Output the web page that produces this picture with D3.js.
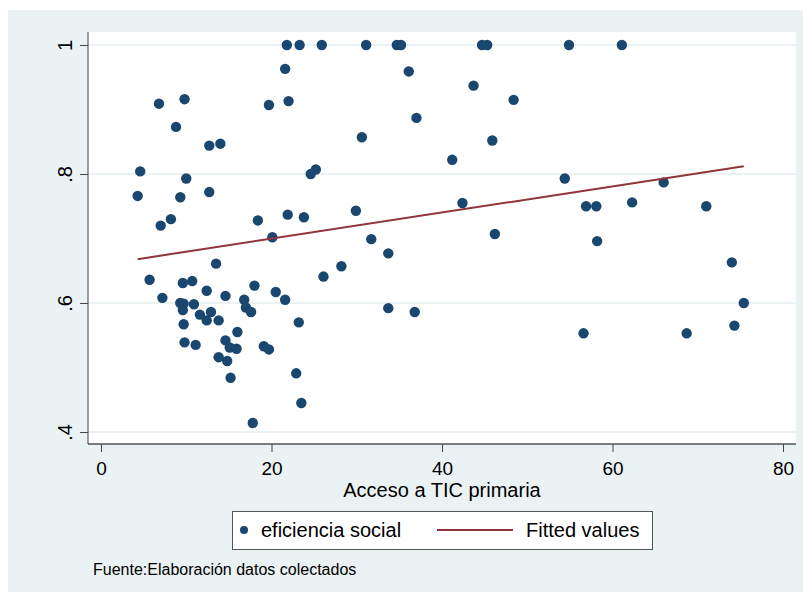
<!DOCTYPE html>
<html>
<head>
<meta charset="utf-8">
<script src="https://cdn.jsdelivr.net/npm/d3@7"></script>
<style>
    body { margin: 0; background: white; }
    svg { display: block; font-family: "Liberation Sans", Arial, sans-serif; }
</style>
</head>
<body>
<div id="container"></div>
<script>
// acceso a TIC primaria (x) and eficiencia social (y)
const accesoTIC = [
    21.8, 23.3, 25.9, 31.1, 34.7, 35.2, 44.7, 45.3, 54.9, 61.1,
    21.6, 6.8, 9.8, 19.7, 22.0, 8.8, 12.7, 14.0, 4.6, 10.0,
    4.3, 9.3, 12.7, 24.6, 25.2, 7.0, 8.2, 18.4, 21.9, 23.8,
    20.1, 13.5, 5.7, 9.6, 10.7, 7.2, 12.4, 14.6, 18.0, 20.5,
    21.6, 26.1, 9.3, 9.7, 10.9, 9.6, 12.9, 11.6, 12.4, 13.8,
    16.8, 17.0, 17.6, 9.7, 16.0, 23.2, 9.8, 11.1, 14.6, 15.1,
    15.9, 19.1, 19.7, 13.8, 14.8, 15.2, 22.9, 23.5, 17.8,
    36.1, 43.7, 48.4, 37.0, 30.6, 45.9, 41.2, 54.4, 29.9, 42.4,
    28.2, 31.7, 33.7, 33.7, 36.8, 46.2,
    56.9, 58.1, 62.3, 66.0, 71.0,
    58.2, 74.0, 75.4, 74.3, 56.6, 68.7
];
const eficienciaSocial = [
    1, 1, 1, 1, 1, 1, 1, 1, 1, 1,
    0.963, 0.909, 0.916, 0.907, 0.913, 0.873, 0.844, 0.847, 0.804, 0.793,
    0.766, 0.764, 0.772, 0.800, 0.807, 0.720, 0.730, 0.728, 0.737, 0.733,
    0.702, 0.661, 0.636, 0.631, 0.634, 0.608, 0.619, 0.611, 0.627, 0.617,
    0.605, 0.641, 0.600, 0.599, 0.598, 0.589, 0.586, 0.582, 0.573, 0.573,
    0.605, 0.593, 0.586, 0.567, 0.555, 0.570, 0.539, 0.535, 0.542, 0.531,
    0.529, 0.533, 0.528, 0.516, 0.510, 0.484, 0.491, 0.445, 0.414,
    0.959, 0.937, 0.915, 0.887, 0.857, 0.852, 0.822, 0.793, 0.743, 0.755,
    0.657, 0.699, 0.677, 0.592, 0.586, 0.707,
    0.750, 0.750, 0.756, 0.787, 0.750,
    0.696, 0.663, 0.600, 0.565, 0.553, 0.553
];

// fitted line end points
const fittedX = [4.3, 75.4];
const fittedY = [0.668, 0.812];

const xTickValues = [0, 20, 40, 60, 80];
const yTickValues = [0.4, 0.6, 0.8, 1];
const yTickLabels = [".4", ".6", ".8", "1"];

const config = {
    width: 803,
    height: 595,
    plotLeft: 88,
    plotRight: 796,
    plotTop: 32,
    plotBottom: 444,
}

const navy = "#1a476f";
const maroon = "#90353b";
const graphBg = "#eaf2f3";

const svg = d3.select("#container")
    .append("svg")
    .attr("width", config.width)
    .attr("height", config.height)

svg.append("rect")
    .attr("x", 8)
    .attr("y", 10)
    .attr("width", config.width - 8)
    .attr("height", 582)
    .attr("fill", graphBg)

svg.append("rect")
    .attr("x", config.plotLeft)
    .attr("y", config.plotTop)
    .attr("width", config.plotRight - config.plotLeft)
    .attr("height", config.plotBottom - config.plotTop)
    .attr("fill", "white")

const xScale = d3.scaleLinear()
    .domain([0, 80])
    .range([101, 783])

const yScale = d3.scaleLinear()
    .domain([0.4, 1])
    .range([432, 45])

// grid lines
svg.append("g")
    .selectAll("line")
    .data(yTickValues)
    .join("line")
    .attr("x1", config.plotLeft)
    .attr("x2", config.plotRight)
    .attr("y1", d => yScale(d))
    .attr("y2", d => yScale(d))
    .attr("stroke", graphBg)
    .attr("stroke-width", 2)

// y axis
const yAxis = svg.append("g")
    .attr("class", "y-axis")
    .attr("transform", `translate(${config.plotLeft},0)`)
    .call(d3.axisLeft(yScale)
        .tickValues(yTickValues)
        .tickFormat((d, i) => yTickLabels[i])
        .tickSize(8)
        .tickSizeOuter(0)
    )
yAxis.select(".domain")
    .attr("d", `M0,${config.plotTop}V${config.plotBottom}`)
    .attr("stroke", "#444")
yAxis.selectAll(".tick line").attr("stroke", "#444")
yAxis.selectAll(".tick text")
    .attr("x", null)
    .attr("dy", null)
    .attr("transform", "translate(-16,0) rotate(-90)")
    .attr("text-anchor", "middle")
    .style("font-size", "20px")
    .style("font-family", "'Liberation Sans', Arial, sans-serif")
    .attr("fill", "black")

// x axis
const xAxis = svg.append("g")
    .attr("class", "x-axis")
    .attr("transform", `translate(0,${config.plotBottom})`)
    .call(d3.axisBottom(xScale)
        .tickValues(xTickValues)
        .tickSize(8)
        .tickPadding(10)
        .tickSizeOuter(0)
    )
xAxis.select(".domain")
    .attr("d", `M${config.plotLeft},0H${config.plotRight}`)
    .attr("stroke", "black")
xAxis.selectAll(".tick line").attr("stroke", "#444")
xAxis.selectAll(".tick text")
    .style("font-size", "19px")
    .style("font-family", "'Liberation Sans', Arial, sans-serif")
    .attr("fill", "black")

svg.append("text")
    .attr("text-anchor", "middle")
    .attr("x", 442)
    .attr("y", 497)
    .text("Acceso a TIC primaria")
    .style("font-size", "20px")

// points
svg.append("g")
    .selectAll("circle")
    .data(accesoTIC.map((x, i) => ({x: x, y: eficienciaSocial[i]})))
    .join("circle")
    .attr("cx", d => xScale(d.x))
    .attr("cy", d => yScale(d.y))
    .attr("r", 5.2)
    .attr("fill", navy)

// fitted line
svg.append("path")
    .datum(fittedX.map((x, i) => [x, fittedY[i]]))
    .attr("d", d3.line().x(d => xScale(d[0])).y(d => yScale(d[1])))
    .attr("fill", "none")
    .attr("stroke", maroon)
    .attr("stroke-width", 2)

// legend
const legend = svg.append("g").attr("class", "legend");

legend.append("rect")
    .attr("x", 232.5)
    .attr("y", 511.5)
    .attr("width", 420)
    .attr("height", 38)
    .attr("fill", "white")
    .attr("stroke", "#555")

legend.append("circle")
    .attr("cx", 244)
    .attr("cy", 530)
    .attr("r", 4)
    .attr("fill", navy)

legend.append("text")
    .attr("x", 261)
    .attr("y", 537)
    .text("eficiencia social")
    .style("font-size", "20px")

legend.append("line")
    .attr("x1", 437)
    .attr("x2", 513)
    .attr("y1", 530)
    .attr("y2", 530)
    .attr("stroke", maroon)
    .attr("stroke-width", 2)

legend.append("text")
    .attr("x", 526)
    .attr("y", 537)
    .text("Fitted values")
    .style("font-size", "20px")

svg.append("text")
    .attr("x", 93)
    .attr("y", 575)
    .text("Fuente:Elaboración datos colectados")
    .style("font-size", "16px")
</script>
</body>
</html>
